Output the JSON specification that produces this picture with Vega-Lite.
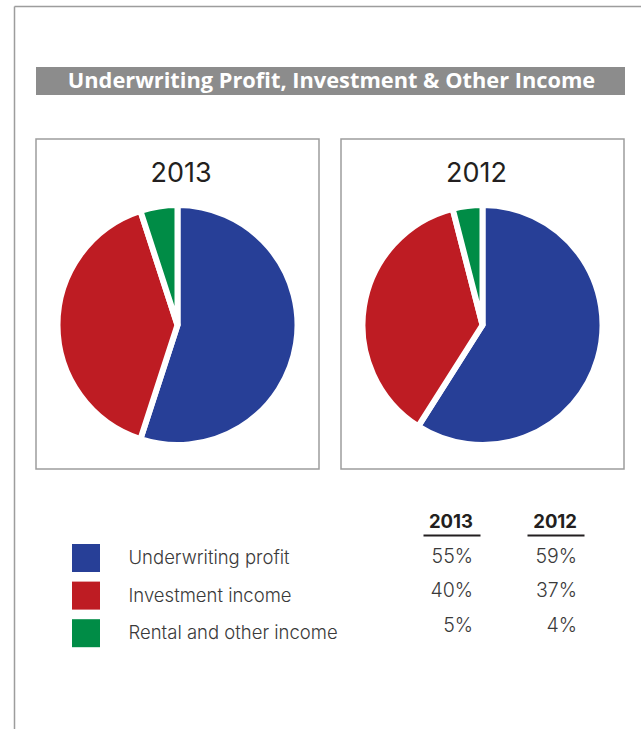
{
  "$schema": "https://vega.github.io/schema/vega-lite/v6.json",
  "background": "white",
  "padding": {"left": 14, "top": 6, "right": 0, "bottom": 0},
  "config": {"view": {"stroke": null}, "font": "Inter"},
  "datasets": {
    "shares": [
      {"year": "2013", "category": "Underwriting profit", "pct": 0.55},
      {"year": "2013", "category": "Investment income", "pct": 0.40},
      {"year": "2013", "category": "Rental and other income", "pct": 0.05},
      {"year": "2012", "category": "Underwriting profit", "pct": 0.59},
      {"year": "2012", "category": "Investment income", "pct": 0.37},
      {"year": "2012", "category": "Rental and other income", "pct": 0.04}
    ]
  },
  "spacing": 44,
  "bounds": "flush",
  "resolve": {"scale": {"color": "independent"}, "legend": {"color": "independent"}},
  "vconcat": [
    {
      "width": 589,
      "height": 28,
      "view": {"fill": "#8c8c8c", "stroke": null},
      "data": {"values": [{"label": "Underwriting Profit, Investment & Other Income"}]},
      "layer": [
        {
          "mark": {"type": "text", "color": "white", "font": "Open Sans", "fontWeight": "bold", "fontSize": 21.8, "baseline": "middle", "align": "center", "dx": 1},
          "encoding": {"text": {"field": "label", "type": "nominal"}}
        },
        {
          "mark": {"type": "point", "opacity": 0, "size": 0},
          "encoding": {
            "x": {"datum": 0, "type": "quantitative", "scale": {"domain": [0, 1], "range": [-22, 605], "zero": false, "nice": false}, "axis": {"orient": "top", "offset": 61, "domainColor": "#9d9d9d", "domainWidth": 1.5, "ticks": false, "labels": false, "grid": false, "title": null}},
            "y": {"datum": 0, "type": "quantitative", "scale": {"domain": [0, 1], "range": [-61, 662], "zero": false, "nice": false}, "axis": {"orient": "left", "offset": 22, "domainColor": "#9d9d9d", "domainWidth": 1.5, "ticks": false, "labels": false, "grid": false, "title": null}}
          }
        }
      ]
    },
    {
      "spacing": 30,
      "resolve": {"scale": {"color": "independent"}, "legend": {"color": "independent"}},
      "vconcat": [
        {
          "spacing": 20,
          "resolve": {"scale": {"color": "independent"}, "legend": {"color": "independent"}},
          "hconcat": [
            {
              "width": 283,
              "height": 330,
              "view": {"stroke": "#9d9d9d", "strokeWidth": 1.5, "fill": "white"},
              "title": {"text": "2013", "font": "Inter", "fontSize": 27, "fontWeight": "normal", "color": "#231f20", "anchor": "middle", "baseline": "alphabetic", "offset": -70, "dx": 3.5},
              "data": {"name": "shares"},
              "transform": [{"filter": "datum.year == '2013'"}],
              "mark": {"type": "arc", "outerRadius": 120, "stroke": "white", "strokeWidth": 6, "strokeJoin": "round", "yOffset": 21},
              "encoding": {
                "theta": {"field": "pct", "type": "quantitative", "stack": true},
                "order": {"field": "pct", "type": "quantitative", "sort": "descending"},
                "color": {"field": "category", "type": "nominal", "scale": {"domain": ["Underwriting profit", "Investment income", "Rental and other income"], "range": ["#273f97", "#be1c23", "#008c46"]}, "legend": null}
              }
            },
            {
              "width": 283,
              "height": 330,
              "view": {"stroke": "#9d9d9d", "strokeWidth": 1.5, "fill": "white"},
              "title": {"text": "2012", "font": "Inter", "fontSize": 27, "fontWeight": "normal", "color": "#231f20", "anchor": "middle", "baseline": "alphabetic", "offset": -70, "dx": -6},
              "data": {"name": "shares"},
              "transform": [{"filter": "datum.year == '2012'"}],
              "mark": {"type": "arc", "outerRadius": 120, "stroke": "white", "strokeWidth": 6, "strokeJoin": "round", "yOffset": 21},
              "encoding": {
                "theta": {"field": "pct", "type": "quantitative", "stack": true},
                "order": {"field": "pct", "type": "quantitative", "sort": "descending"},
                "color": {"field": "category", "type": "nominal", "scale": {"domain": ["Underwriting profit", "Investment income", "Rental and other income"], "range": ["#273f97", "#be1c23", "#008c46"]}, "legend": null}
              }
            }
          ]
        },
        {
          "width": 589,
          "height": 150,
          "data": {"name": "shares"},
          "layer": [
            {
              "transform": [{"filter": "datum.category == 'Underwriting profit'"}],
              "mark": {"type": "text", "align": "right", "baseline": "middle", "font": "Inter", "fontWeight": "bold", "fontSize": 18.5, "color": "#231f20"},
              "encoding": {
                "x": {"field": "year", "type": "nominal", "scale": {"type": "point", "domain": ["2013", "2012"], "range": [437, 541], "padding": 0}, "axis": null},
                "y": {"datum": "header", "type": "nominal", "scale": {"type": "point", "domain": ["header", "Underwriting profit", "Investment income", "Rental and other income"], "range": [22.4, 126], "padding": 0}, "axis": null},
                "text": {"field": "year", "type": "nominal"}
              }
            },
            {
              "transform": [{"filter": "datum.category == 'Underwriting profit'"}],
              "mark": {"type": "tick", "orient": "horizontal", "size": 57, "thickness": 2, "color": "#231f20", "opacity": 1, "xOffset": -21, "yOffset": 13},
              "encoding": {
                "x": {"field": "year", "type": "nominal", "axis": null},
                "y": {"datum": "header", "type": "nominal", "axis": null}
              }
            },
            {
              "mark": {"type": "text", "align": "right", "baseline": "middle", "font": "Inter", "fontWeight": 300, "fontSize": 19.5, "color": "#3a3a3a"},
              "encoding": {
                "x": {"field": "year", "type": "nominal", "axis": null},
                "y": {"field": "category", "type": "nominal", "axis": null},
                "text": {"field": "pct", "type": "quantitative", "format": ".0%"}
              }
            },
            {
              "transform": [{"filter": "datum.year == '2013'"}],
              "mark": {"type": "square", "size": 0, "opacity": 1, "filled": true},
              "encoding": {
                "color": {
                  "field": "category",
                  "type": "nominal",
                  "scale": {"domain": ["Underwriting profit", "Investment income", "Rental and other income"], "range": ["#273f97", "#be1c23", "#008c46"]},
                  "legend": {"orient": "none", "legendX": 36, "legendY": 44, "title": null, "symbolType": "square", "symbolSize": 784, "symbolStrokeWidth": 0, "symbolOpacity": 1, "labelFont": "Inter", "labelFontWeight": 300, "labelFontSize": 18.5, "labelColor": "#3a3a3a", "labelOffset": 28.5, "rowPadding": 9.6, "padding": 0, "labelLimit": 400}
                }
              }
            }
          ]
        }
      ]
    }
  ]
}
